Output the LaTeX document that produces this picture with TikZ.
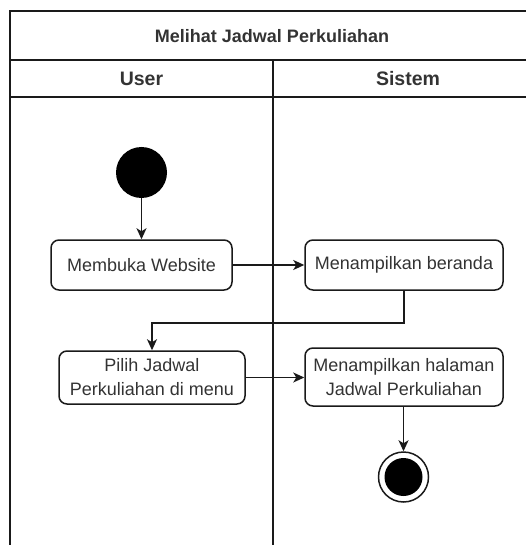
\documentclass[tikz,border=0pt]{standalone}
\usepackage{fontspec}
\setmainfont{Liberation Sans}
\usetikzlibrary{arrows.meta}
\definecolor{txt}{HTML}{333333}
\definecolor{ln}{HTML}{1A1A1A}
\tikzset{
  lane/.style={line width=1.5pt, draw=ln},
  actbox/.style={draw=ln, line width=1.5pt, rounded corners=8pt, text=txt,
    font=\fontsize{18}{24}\selectfont, align=center, inner sep=0pt},
  flow/.style={line width=1.5pt, draw=ln, -{Stealth[length=11pt,width=10pt,inset=3pt]}},
}
\begin{document}
\begin{tikzpicture}[x=1pt,y=-1pt]
\useasboundingbox (0,0) rectangle (526,545);
% frame
\draw[lane] (560,11) -- (10,11) -- (10,560);
\draw[lane] (10,60) -- (560,60);
\draw[lane] (10,97) -- (560,97);
\draw[lane] (273,60) -- (273,560);
\node[text=txt, font=\bfseries\fontsize{18}{20}\selectfont] (title) at (272,36) {Melihat Jadwal Perkuliahan};
\node[text=txt, font=\bfseries\fontsize{19.5}{22}\selectfont] (user) at (141.5,79) {User};
\node[text=txt, font=\bfseries\fontsize{19.5}{22}\selectfont] (sistem) at (408,79) {Sistem};
% start
\node[circle, fill=black, minimum size=51pt, inner sep=0pt] (start) at (141.5,172.5) {};
% activities
\node[actbox, minimum width=181pt, minimum height=50pt] (a1) at (141.5,265) {Membuka Website};
\node[actbox, minimum width=198pt, minimum height=50pt] (a2) at (404,265) {Menampilkan beranda};
\node[actbox, minimum width=186pt, minimum height=53pt] (a3) at (152,377.5) {Pilih Jadwal\\Perkuliahan di menu};
\node[actbox, minimum width=198pt, minimum height=58pt] (a4) at (404,377) {Menampilkan halaman\\Jadwal Perkuliahan};
% end
\node[circle, draw=ln, line width=1.5pt, minimum size=50pt, inner sep=0pt] (end) at (403.5,477) {};
\node[circle, fill=black, minimum size=38pt, inner sep=0pt] (endin) at (end.center) {};
% flows
\draw[flow] (start) -- (a1);
\draw[flow] (a1) -- (a2);
\draw[flow] (a2.south) -- ++(0,32) -| (a3.north);
\draw[flow] (a3.east) -- (a3.east -| a4.west);
\draw[flow] (a4.south -| end.north) -- (end.north);
\end{tikzpicture}
\end{document}
